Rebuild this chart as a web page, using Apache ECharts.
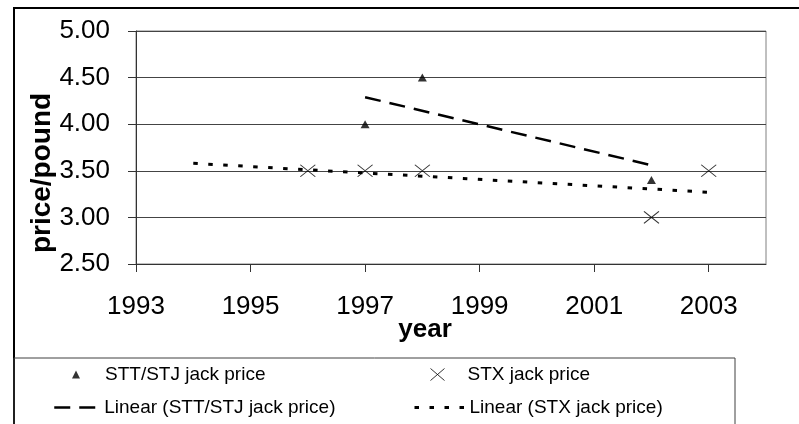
<!DOCTYPE html>
<html>
<head>
<meta charset="utf-8">
<script src="https://cdn.jsdelivr.net/npm/echarts@6/dist/echarts.min.js"></script>
<style>
  html, body { margin: 0; padding: 0; background: #fff; }
  #chart { width: 799px; height: 424px; }
</style>
</head>
<body>
<div id="chart"></div>
<script>
const sttYears = [1997, 1998, 2002]
const sttPrice = [4.0, 4.5, 3.4]
const stxYears = [1996, 1997, 1998, 2002, 2003]
const stxPrice = [3.5, 3.5, 3.5, 3.0, 3.5]
// trend line ends
const sttTrendYears = [1997, 2002]
const sttTrendPrice = [4.29, 3.56]
const stxTrendYears = [1994, 2003]
const stxTrendPrice = [3.58, 3.27]
const yearTicks = [1993, 1995, 1997, 1999, 2001, 2003]

const font = "'Liberation Sans', Arial, sans-serif"
const crossPath = 'path://M0,0L14,12M14,0L0,12'
const sttDash = [16, 9]
const stxDash = [4.5, 10.5]

const chart = echarts.init(document.getElementById('chart'))

const pairs = (xs, ys) => xs.map((x, i) => [x, ys[i]])
const legendText = pad => ({ fontFamily: font, fontSize: 19, color: '#000', padding: [0, 0, 0, pad] })

const option = {
  backgroundColor: '#fff',
  animation: false,
  grid: {
    left: 136, right: 33, top: 31, bottom: 160,
    show: true, borderColor: '#808080', borderWidth: 1
  },
  xAxis: {
    type: 'value',
    min: 1993,
    max: 2004,
    splitLine: { show: false },
    axisLine: { lineStyle: { color: '#333', width: 1 } },
    axisTick: { customValues: yearTicks, length: 8, lineStyle: { color: '#333' } },
    axisLabel: {
      customValues: yearTicks,
      margin: 30,
      color: '#000',
      fontFamily: font,
      fontSize: 26,
      formatter: v => String(v)
    }
  },
  yAxis: {
    type: 'value',
    min: 2.5,
    max: 5,
    interval: 0.5,
    splitLine: { lineStyle: { color: '#444', width: 1 } },
    axisLine: { show: true, lineStyle: { color: '#333', width: 1 } },
    axisTick: { show: true, length: 8, lineStyle: { color: '#333' } },
    axisLabel: {
      margin: 26,
      color: '#000',
      fontFamily: font,
      fontSize: 26,
      formatter: v => v.toFixed(2)
    }
  },
  legend: [
    {
      data: ['STT/STJ jack price'],
      left: 72, top: 365, padding: 0, itemWidth: 8, itemHeight: 8,
      textStyle: legendText(20)
    },
    {
      data: ['STX jack price'],
      left: 430, top: 365, padding: 0, itemWidth: 14, itemHeight: 12,
      itemStyle: { color: 'transparent', borderColor: '#000', borderWidth: 1 },
      textStyle: legendText(18)
    },
    {
      data: ['Linear (STT/STJ jack price)'],
      left: 53, top: 398, padding: 0, itemWidth: 45, itemHeight: 14,
      itemStyle: { opacity: 0 },
      lineStyle: { color: '#000', width: 2.5, type: sttDash },
      textStyle: legendText(0)
    },
    {
      data: ['Linear (STX jack price)'],
      left: 413, top: 398, padding: 0, itemWidth: 50, itemHeight: 14,
      itemStyle: { opacity: 0 },
      lineStyle: { color: '#000', width: 3, type: stxDash },
      textStyle: legendText(0)
    }
  ],
  graphic: [
    {
      type: 'rect', silent: true,
      shape: { x: 14, y: 8, width: 800, height: 440 },
      style: { fill: 'none', stroke: '#000', lineWidth: 2 }
    },
    {
      type: 'rect', silent: true,
      shape: { x: 14, y: 358, width: 721, height: 90 },
      style: { fill: 'none', stroke: '#404040', lineWidth: 1 }
    },
    {
      type: 'text', silent: true,
      x: 42, y: 173, rotation: Math.PI / 2,
      style: {
        text: 'price/pound', fontFamily: font, fontSize: 28, fontWeight: 'bold',
        fill: '#000', align: 'center', verticalAlign: 'middle'
      }
    },
    {
      type: 'text', silent: true,
      x: 425, y: 330,
      style: {
        text: 'year', fontFamily: font, fontSize: 26, fontWeight: 'bold',
        fill: '#000', align: 'center', verticalAlign: 'middle'
      }
    }
  ],
  series: [
    {
      name: 'Linear (STT/STJ jack price)',
      type: 'line',
      data: pairs(sttTrendYears, sttTrendPrice),
      symbol: 'none',
      color: '#000',
      lineStyle: { color: '#000', width: 2.5, type: sttDash }
    },
    {
      name: 'Linear (STX jack price)',
      type: 'line',
      data: pairs(stxTrendYears, stxTrendPrice),
      symbol: 'none',
      color: '#000',
      lineStyle: { color: '#000', width: 3, type: stxDash }
    },
    {
      name: 'STT/STJ jack price',
      type: 'scatter',
      data: pairs(sttYears, sttPrice),
      symbol: 'triangle',
      symbolSize: [9, 8],
      itemStyle: { color: '#000' }
    },
    {
      name: 'STX jack price',
      type: 'scatter',
      data: pairs(stxYears, stxPrice),
      symbol: crossPath,
      symbolSize: [15, 12],
      itemStyle: { color: 'transparent', borderColor: '#000', borderWidth: 1 }
    }
  ]
}

chart.setOption(option)
</script>
</body>
</html>
